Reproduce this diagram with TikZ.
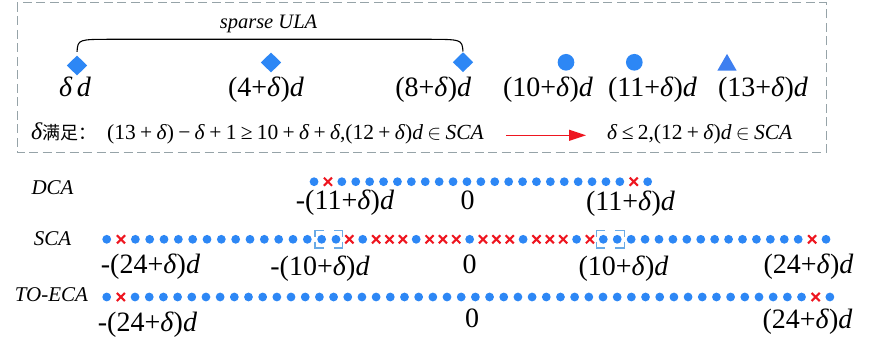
\documentclass[tikz,border=0pt]{standalone}
\usepackage{fontspec}
\setmainfont{Liberation Serif}
\newfontfamily\cjk{Noto Sans CJK SC}
\usetikzlibrary{shapes.geometric,shapes.misc,arrows.meta,calc}
\definecolor{bluedot}{RGB}{45,135,245}
\definecolor{bluetri}{RGB}{62,127,240}
\definecolor{redx}{RGB}{238,22,32}
\definecolor{boxgray}{RGB}{150,163,168}
\definecolor{lightbl}{RGB}{105,170,230}
\newcommand{\dl}{\textit{δ}}
\newcommand{\dd}{\textit{d}}
\newcommand{\gp}{\hspace{0.2em}}
\newcommand{\cbx}[1]{%
 \draw[cbox] ($(#1)+(-13.8,-2.4)$) -- ($(#1)+(-13.8,-8.7)$) -- ($(#1)+(-4.8,-8.7)$);
 \draw[cbox] ($(#1)+(13.8,-2.4)$) -- ($(#1)+(13.8,-8.7)$) -- ($(#1)+(4.8,-8.7)$);
 \draw[cbox] ($(#1)+(-13.8,2.4)$) -- ($(#1)+(-13.8,8.7)$) -- ($(#1)+(-4.8,8.7)$);
 \draw[cbox] ($(#1)+(13.8,2.4)$) -- ($(#1)+(13.8,8.7)$) -- ($(#1)+(4.8,8.7)$);}
\begin{document}
\begin{tikzpicture}[x=1pt,y=-1pt,
  bdot/.style={circle, fill=bluedot, inner sep=0pt, minimum size=8.8pt},
  rx/.style={cross out, draw=redx, line width=2.1pt, inner sep=0pt, minimum size=6pt},
  lab/.style={font=\fontsize{28}{30}\selectfont, inner sep=0pt, anchor=base},
  rowname/.style={font=\fontsize{21}{24}\selectfont\itshape, inner sep=0pt, anchor=base},
  frm/.style={font=\fontsize{21.5}{24}\selectfont, inner sep=0pt, anchor=base west},
  dia/.style={diamond, fill=bluedot, inner sep=0pt, minimum width=20.5pt, minimum height=20pt},
  cir/.style={circle, fill=bluedot, inner sep=0pt, minimum size=16.7pt},
  tri/.style={regular polygon, regular polygon sides=3, fill=bluetri, inner sep=0pt, minimum size=22.4pt},
  cbox/.style={draw=lightbl, line width=1.1pt},
  declare function={scax(\i)=ifthenelse(\i<=16, 106.7+14.33*\i, ifthenelse(\i<=36, 336+13.365*(\i-16), 603.3+13.92*(\i-36)));}
  ]
\useasboundingbox (0,0) rectangle (872,355);
% top dashed frame
\draw[boxgray, line width=1pt, dash pattern=on 9pt off 4.5pt] (17,3) rectangle (826,153);
% sparse ULA
\node[font=\fontsize{20.5}{22}\selectfont\itshape, inner sep=0pt, anchor=base] (ula) at (268.5,28.5) {sparse ULA};
\node[dia] (d1) at (77,65.5) {};
\node[dia] (d2) at (271,62.5) {};
\node[dia] (d3) at (463,62.2) {};
\node[cir] (c1) at (566,62.3) {};
\node[cir] (c2) at (634.3,62.3) {};
\node[tri] (t1) at (727,65.1) {};
\coordinate (ah) at (0,39.3);
\draw[black, line width=1.1pt] ($(d1.north)+(0,-3.5)$) .. controls ($(d1.north |- ah)+(1,0)$) .. ($(d1.north |- ah)+(36,0)$)
  -- ($(d3.north |- ah)+(-38,0)$) .. controls ($(d3.north |- ah)+(-1,0)$) .. ($(d3.north)+(0,-0.5)$);
\node[lab] (l1) at (75,97) {\dl\hspace{0.15em}\dd};
\node[lab] (l2) at (266,97) {(4+\dl)\dd};
\node[lab] (l3) at (433.3,97) {(8+\dl)\dd};
\node[lab] (l4) at (548,97) {(10+\dl)\dd};
\node[lab] (l5) at (652.5,97) {(11+\dl)\dd};
\node[lab] (l6) at (763,97) {(13+\dl)\dd};
% condition line
\node[inner sep=0pt, anchor=base west] (cond) at (31,139.5) {{\fontsize{24}{26}\selectfont\dl}{\cjk\fontsize{18}{20}\selectfont 满足：}};
\node[frm] (f1) at (107,139.5) {(13\gp+\gp\dl)\gp−\gp\dl\gp+\gp1\gp≥\gp10\gp+\gp\dl\gp+\gp\dl,(12\gp+\gp\dl)\dd\gp$\in$\gp\textit{SCA}};
\node[frm] (f2) at (607,139.5) {\dl\gp≤\gp2,(12\gp+\gp\dl)\dd\gp$\in$\gp\textit{SCA}};
\coordinate (a1) at (506,135.3);
\coordinate (a2) at (586,135.3);
\draw[redx, line width=1.4pt, -{Triangle[length=17pt,width=11pt]}] (a1) -- (a2);
% row names
\node[rowname] (ndca) at (52.5,195) {DCA};
\node[rowname] (nsca) at (52.5,246) {SCA};
\node[rowname] (neca) at (51.5,301.7) {TO-ECA};
% DCA row
\foreach \r in {-12,-10,-9,...,10,12} \node[bdot] (dca\r) at (480.85+13.9*\r,181.7) {};
\foreach \r in {-11,11} \node[rx] (dcax\r) at (480.85+13.9*\r,181.7) {};
% SCA row
\foreach \i in {0,2,3,...,16,18,22,26,30,34,36,37,...,50,52} \node[bdot] (sca\i) at ({scax(\i)},239.3) {};
\foreach \i in {1,17,19,20,21,23,24,25,27,28,29,31,32,33,35,51} \node[rx] (sca\i) at ({scax(\i)},239.3) {};
\coordinate (bx1) at ($(sca15)!0.5!(sca16)$);
\coordinate (bx2) at ($(sca36)!0.5!(sca37)$);
\cbx{bx1}
\cbx{bx2}
% TO-ECA row
\foreach \i in {0,2,3,...,49,51} \node[bdot] (eca\i) at (106.7+14.18*\i,297) {};
\foreach \i in {1,50} \node[rx] (eca\i) at (106.7+14.18*\i,297) {};
% DCA labels
\node[lab] (dl1) at (345,210) {-(11+\dl)\dd};
\node[lab] (dl2) at (467.5,210) {0};
\node[lab] (dl3) at (630.5,210.5) {(11+\dl)\dd};
% SCA labels
\node[lab] (sl1) at (150.5,273.5) {-(24+\dl)\dd};
\node[lab] (sl2) at (320,275) {-(10+\dl)\dd};
\node[lab] (sl3) at (469.5,273) {0};
\node[lab] (sl4) at (623.5,275) {(10+\dl)\dd};
\node[lab] (sl5) at (808.5,273.5) {(24+\dl)\dd};
% TO-ECA labels
\node[lab] (el1) at (147.5,331.5) {-(24+\dl)\dd};
\node[lab] (el2) at (472,327) {0};
\node[lab] (el3) at (807.5,328.5) {(24+\dl)\dd};
\end{tikzpicture}
\end{document}
